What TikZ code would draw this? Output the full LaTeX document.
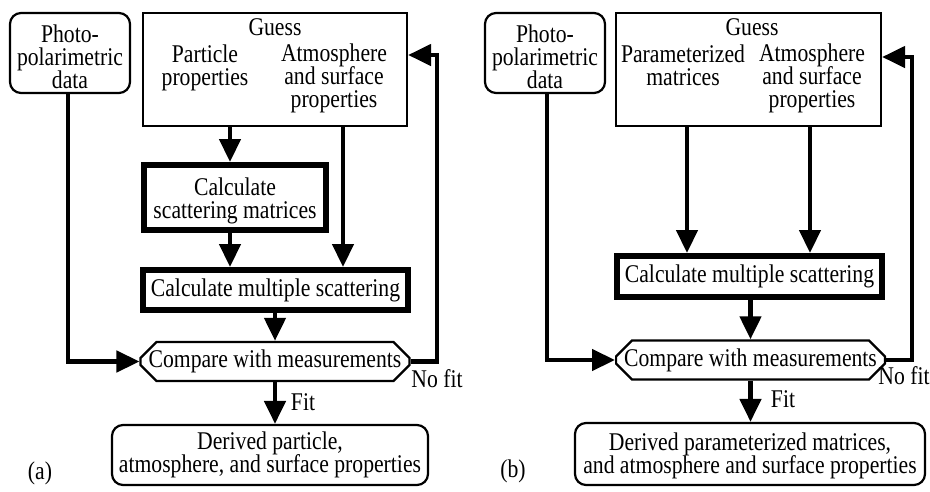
\documentclass[tikz,border=0pt]{standalone}
\usepackage{fontspec}
\setmainfont[FakeStretch=0.85]{Liberation Serif}
\usetikzlibrary{arrows.meta,shapes.misc}
\setlength{\lineskiplimit}{-20pt}

\begin{document}
\begin{tikzpicture}[x=1pt, y=-1pt, font=\fontsize{25.5}{23}\selectfont]
    % Definizione stili
    \tikzstyle{databox}=[draw, line width=2.2pt, rounded corners=11pt, inner sep=0pt]
    \tikzstyle{guessbox}=[draw, line width=2.2pt, inner sep=0pt]
    \tikzstyle{calcbox}=[draw, line width=6pt, inner sep=0pt]
    \tikzstyle{comparebox}=[draw, line width=2.2pt, chamfered rectangle, chamfered rectangle xsep=8pt, chamfered rectangle ysep=8pt, inner sep=0pt]
    \tikzstyle{testo}=[align=center, inner sep=0pt, anchor=base]
    \tikzstyle{freccia}=[line width=4.5pt, -{Triangle[length=23pt, width=21pt]}]

    \useasboundingbox (0,0) rectangle (930,491);

    % ---------------- Pannello (a) ----------------
    % (testi a piu' righe: la base e' quella dell'ultima riga)
    \node[databox, minimum width=120, minimum height=80] (photoA) at (70,53) {};
    \node[testo] (photoTA) at (70,88) {Photo-\\polarimetric\\data};
    \node[guessbox, minimum width=264, minimum height=113] (guessA) at (275,69.5) {};
    \node[testo] (guesslabA) at (275,35) {Guess};
    \node[testo] (particleA) at (205,85) {Particle\\properties};
    \node[testo] (atmA) at (334,107) {Atmosphere\\and surface\\properties};
    \node[calcbox, minimum width=182, minimum height=65] (scatA) at (235,197.5) {};
    \node[testo] (scatTA) at (235,218) {Calculate\\scattering matrices};
    \node[calcbox, minimum width=265, minimum height=40] (multiA) at (275.5,290) {Calculate multiple scattering};
    \node[comparebox, minimum width=264, minimum height=37] (compA) at (275,361.5) {Compare with measurements};
    \node[databox, minimum width=316, minimum height=60] (derivA) at (270,455) {};
    \node[testo] (derivTA) at (270,472) {Derived particle,\\atmosphere, and surface properties};
    \node[testo] (fitA) at (303,410) {Fit};
    \node[testo] (nofitA) at (437,387) {No fit};
    \node[testo] (labA) at (40,479) {(a)};

    % Frecce pannello (a)
    \coordinate (sxA) at (230,0);
    \coordinate (dxA) at (343,0);
    \coordinate (loopA) at (437,55);
    \draw[freccia] (guessA.south -| sxA) -- (scatA.north -| sxA);
    \draw[freccia] (scatA.south -| sxA) -- (multiA.north -| sxA);
    \draw[freccia] (guessA.south -| dxA) -- (multiA.north -| dxA);
    \draw[freccia] (multiA.south -| compA) -- (compA.north);
    \draw[freccia] (photoA.south -| 68,0) |- (compA.west);
    \draw[freccia] (compA.east) -| (loopA) -- (guessA.east |- loopA);
    \draw[freccia] (compA.south) -- (derivA.north -| compA);

    % ---------------- Pannello (b) ----------------
    \node[databox, minimum width=120, minimum height=80] (photoB) at (545,53) {};
    \node[testo] (photoTB) at (545,88) {Photo-\\polarimetric\\data};
    \node[guessbox, minimum width=265, minimum height=113] (guessB) at (748.5,69.5) {};
    \node[testo] (guesslabB) at (752,35) {Guess};
    \node[testo] (paramB) at (683,85) {Parameterized\\matrices};
    \node[testo] (atmB) at (812,107) {Atmosphere\\and surface\\properties};
    \node[calcbox, minimum width=265, minimum height=41] (multiB) at (749.5,276.5) {Calculate multiple scattering};
    \node[comparebox, minimum width=265, minimum height=38] (compB) at (750.5,360) {Compare with measurements};
    \node[databox, minimum width=350, minimum height=62] (derivB) at (750,454) {};
    \node[testo] (derivTB) at (750,473) {Derived parameterized matrices,\\and atmosphere and surface properties};
    \node[testo] (fitB) at (783,407) {Fit};
    \node[testo] (nofitB) at (904,384) {No fit};
    \node[testo] (labB) at (513,477) {(b)};

    % Frecce pannello (b)
    \coordinate (sxB) at (687,0);
    \coordinate (dxB) at (810,0);
    \coordinate (loopB) at (912,57);
    \draw[freccia] (guessB.south -| sxB) -- (multiB.north -| sxB);
    \draw[freccia] (guessB.south -| dxB) -- (multiB.north -| dxB);
    \draw[freccia] (multiB.south -| compB) -- (compB.north);
    \draw[freccia] (photoB.south -| 547,0) |- (compB.west);
    \draw[freccia] (compB.east) -| (loopB) -- (guessB.east |- loopB);
    \draw[freccia] (compB.south) -- (derivB.north -| compB);
\end{tikzpicture}
\end{document}
